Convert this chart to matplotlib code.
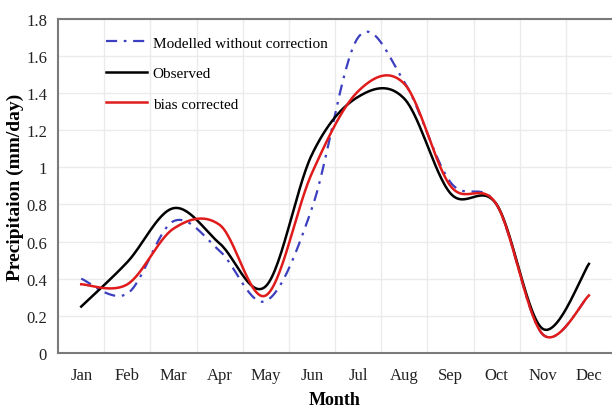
import numpy as np
import matplotlib
matplotlib.use("Agg")
import matplotlib.pyplot as plt

months = ["Jan", "Feb", "Mar", "Apr", "May", "Jun",
          "Jul", "Aug", "Sep", "Oct", "Nov", "Dec"]
modelled = [0.40, 0.32, 0.71, 0.55, 0.28, 0.78, 1.70, 1.46, 0.92, 0.80, 0.10, 0.31]
observed = [0.25, 0.49, 0.78, 0.59, 0.36, 1.07, 1.38, 1.37, 0.86, 0.80, 0.13, 0.48]
corrected = [0.37, 0.37, 0.67, 0.69, 0.31, 0.97, 1.41, 1.45, 0.90, 0.80, 0.10, 0.31]


def smooth(y, n=30):
    # catmull-rom like excel's smoothed line
    y = np.asarray(y, float)
    x = np.arange(len(y), dtype=float)
    px = np.concatenate([[x[0]], x, [x[-1]]])
    py = np.concatenate([[y[0]], y, [y[-1]]])
    xs, ys = [], []
    t = np.linspace(0, 1, n, endpoint=False)
    for i in range(1, len(px) - 2):
        for p, out in ((px, xs), (py, ys)):
            p0, p1, p2, p3 = p[i - 1], p[i], p[i + 1], p[i + 2]
            out.extend(0.5 * (2 * p1 + (-p0 + p2) * t
                              + (2 * p0 - 5 * p1 + 4 * p2 - p3) * t ** 2
                              + (-p0 + 3 * p1 - 3 * p2 + p3) * t ** 3))
    xs.append(x[-1])
    ys.append(y[-1])
    return np.array(xs), np.array(ys)


plt.rcParams['font.family'] = ['Liberation Serif', 'DejaVu Serif']

fig = plt.figure(figsize=(6.12, 4.14), dpi=100)
ax = fig.add_axes([0.095, 0.145, 0.905, 0.807])

xs, ys = smooth(modelled)
ax.plot(xs, ys, color="#3c3fc0", lw=1.6, dashes=(5, 3, 1.2, 3),
        label="Modelled without correction", zorder=3)
xs, ys = smooth(observed)
ax.plot(xs, ys, color="black", lw=1.8, label="Observed", zorder=4)
xs, ys = smooth(corrected)
ax.plot(xs, ys, color="#e01b1b", lw=1.8, label="bias corrected", zorder=5)

ax.set_xlim(-0.5, 11.5)
ax.set_ylim(0, 1.8)
ax.set_xticks(range(12))
ax.set_xticklabels(months)
yt = np.arange(0, 1.81, 0.2)
ax.set_yticks(yt)
ax.set_yticklabels([("%g" % round(v, 1)) for v in yt])
ax.set_xticks(np.arange(0.5, 11.5, 1), minor=True)
ax.tick_params(which="both", length=0, labelsize=12, colors="#222222")
ax.tick_params(axis="x", pad=10)
ax.tick_params(axis="y", pad=8)
ax.grid(which="minor", axis="x", color="#ebebeb", lw=1)
ax.grid(which="major", axis="y", color="#ebebeb", lw=1)
ax.set_axisbelow(True)

for s in ["left", "bottom", "top"]:
    ax.spines[s].set_color("#7a7a7a")
    ax.spines[s].set_linewidth(1.5)
ax.spines["right"].set_visible(False)

ax.set_xlabel("Month", fontsize=13, fontweight="bold", labelpad=6)
ax.set_ylabel("Precipitaion (mm/day)", fontsize=14, fontweight="bold")
ax.yaxis.set_label_coords(-0.062, 0.5)

ax.legend(loc="upper left", bbox_to_anchor=(0.062, 0.99), frameon=False,
          fontsize=11, handlelength=2.7, handletextpad=0.35, labelspacing=1.1)

fig.savefig("out.png", dpi=100)
